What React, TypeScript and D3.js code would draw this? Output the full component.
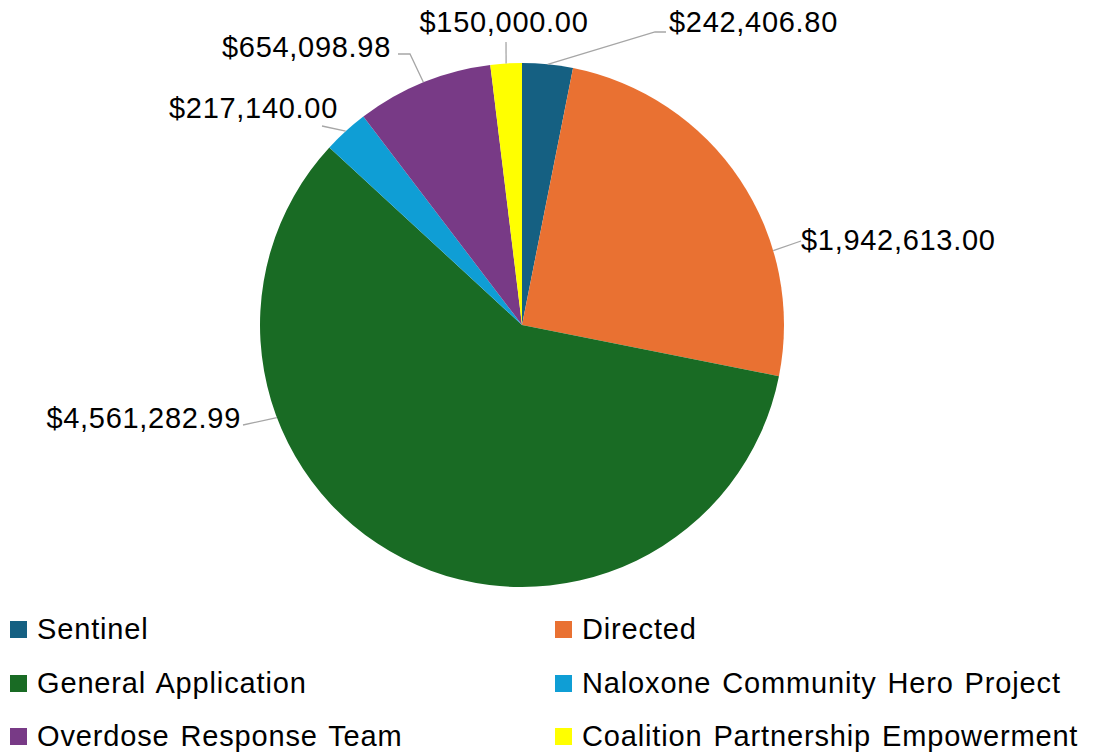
import React from "react";
import * as d3 from "d3";

const categories = [
  "Sentinel",
  "Directed",
  "General Application",
  "Naloxone Community Hero Project",
  "Overdose Response Team",
  "Coalition Partnership Empowerment",
];
const values = [242406.8, 1942613.0, 4561282.99, 217140.0, 654098.98, 150000.0];
const colors = ["#156082", "#E97132", "#196B24", "#0F9ED5", "#783A86", "#FFFF00"];

// label layout (positions only): text anchor point, leader attach angle override (deg), leader points after arc
const labelLayout = [
  { tx: 669, ty: 22, anchor: "start", angle: null, pts: [[655, 32], [666, 32]] },
  { tx: 801, ty: 240, anchor: "start", angle: 73.5, pts: [[801, 241]] },
  { tx: 241, ty: 418, anchor: "end", angle: 249.3, pts: [[243, 425]] },
  { tx: 338, ty: 108, anchor: "end", angle: null, pts: [[322, 126]] },
  { tx: 391, ty: 47, anchor: "end", angle: null, pts: [[410, 54], [398, 54]] },
  { tx: 504, ty: 22, anchor: "middle", angle: null, pts: [[506, 42]] },
];

const W = 1096;
const H = 753;
const cx = 522;
const cy = 325;
const R = 262;

const fmt = (v: number) => "$" + d3.format(",.2f")(v);

export default function App() {
  const data = categories.map((c, i) => ({ name: c, value: values[i], color: colors[i] }));
  const pie = d3.pie<any>().value((d) => d.value).sort(null);
  const arcs = pie(data);
  const arc = d3.arc<any>().innerRadius(0).outerRadius(R);

  const legendCols = [10, 555];
  const legendRows = [629, 683, 736];

  return (
    <svg
      width={W}
      height={H}
      style={{ position: "absolute", left: 0, top: 0 }}
      fontFamily="'Liberation Sans', Arial, sans-serif"
    >
      <rect width={W} height={H} fill="#ffffff" />
      <g transform={`translate(${cx},${cy})`}>
        {arcs.map((a, i) => (
          <path key={i} d={arc(a) as string} fill={a.data.color} />
        ))}
      </g>
      {arcs.map((a, i) => {
        const L = labelLayout[i];
        const ang = L.angle != null ? (L.angle * Math.PI) / 180 : (a.startAngle + a.endAngle) / 2;
        const p0: [number, number] = [cx + R * Math.sin(ang), cy - R * Math.cos(ang)];
        const pts = [p0, ...(L.pts as [number, number][])];
        const line = d3.line()(pts) as string;
        return (
          <g key={"l" + i}>
            <path d={line} fill="none" stroke="#A6A6A6" strokeWidth={1.3} />
            <text
              x={L.tx}
              y={L.ty}
              textAnchor={L.anchor as any}
              dominantBaseline="central"
              fontSize={29}
              letterSpacing={0.7}
              fill="#000"
            >
              {fmt(a.data.value)}
            </text>
          </g>
        );
      })}
      {data.map((d, i) => {
        const x = legendCols[i % 2];
        const y = legendRows[Math.floor(i / 2)];
        return (
          <g key={"lg" + i}>
            <rect x={x} y={y - 8} width={17} height={17} fill={d.color} />
            <text
              x={x + 27}
              y={y}
              dominantBaseline="central"
              fontSize={29}
              letterSpacing={0.85}
              wordSpacing={2}
              fill="#000"
            >
              {d.name}
            </text>
          </g>
        );
      })}
    </svg>
  );
}
